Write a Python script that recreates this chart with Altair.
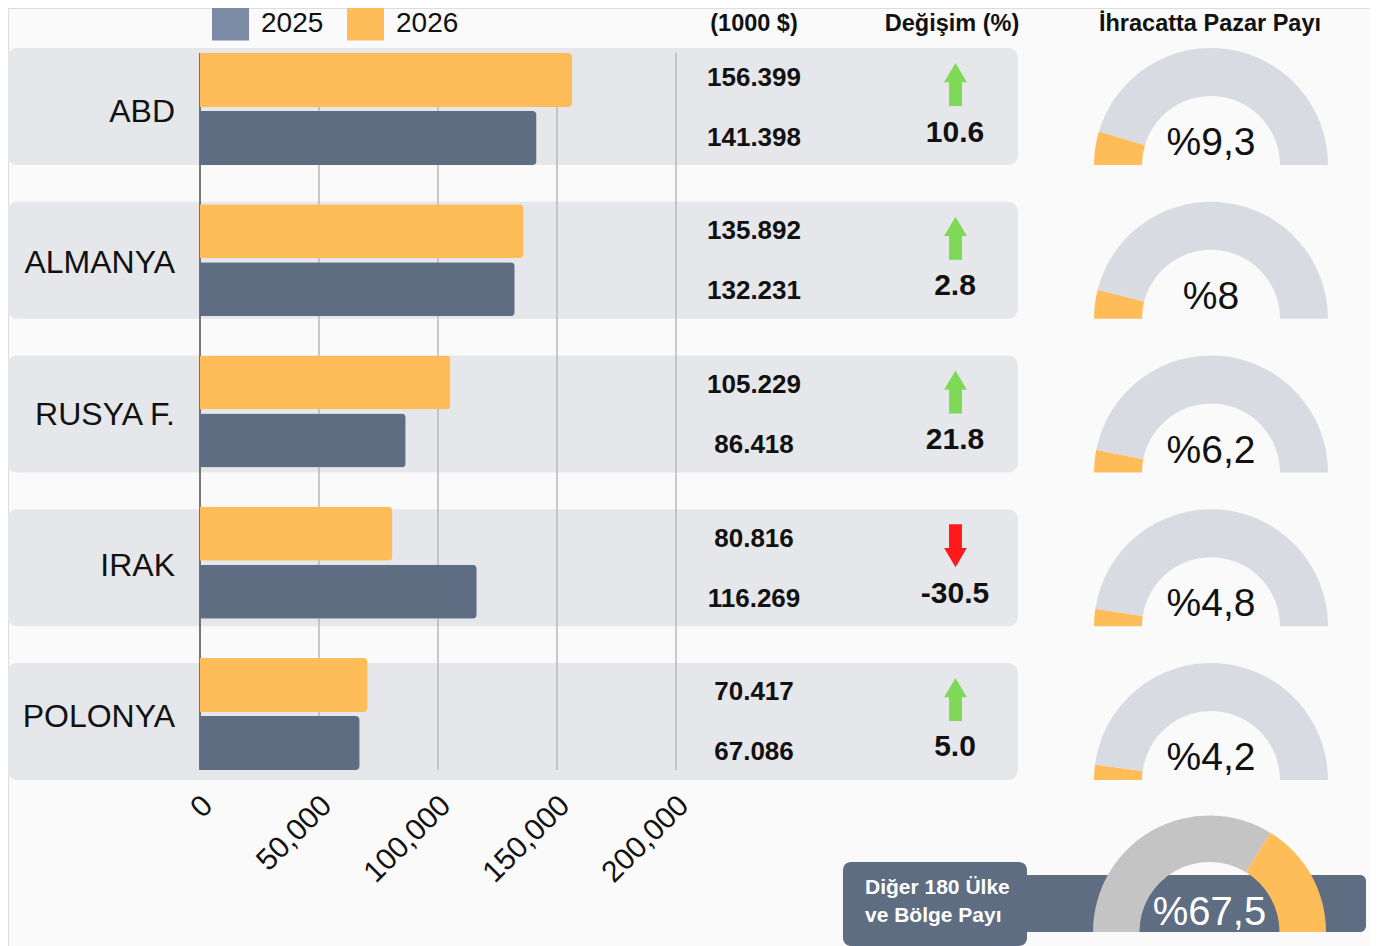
import altair as alt
import pandas as pd

# ---------------- data ----------------
countries = ["ABD", "ALMANYA", "RUSYA F.", "IRAK", "POLONYA"]
exports_2025 = [141398, 132231, 86418, 116269, 67086]
exports_2026 = [156399, 135892, 105229, 80816, 70417]
change_pct = [10.6, 2.8, 21.8, -30.5, 5.0]
market_share = [9.3, 8.0, 6.2, 4.8, 4.2]
other_share = 67.5
x_ticks = [0, 50000, 100000, 150000, 200000]
years = ["2025", "2026"]

# ---------------- styles ----------------
SLATE = "#5e6d82"
SLATE_LIGHT = "#7b8ba3"
ORANGE = "#ffbd5a"
ROW_BG = "#e6e7eb"
GAUGE_GRAY = "#d8dbe1"
OTHER_GRAY = "#c4c4c4"
TXT = "#111111"
FONT = "Liberation Sans"
W, H = 1362, 938

UP = "M0,-1L0.53,-0.1L0.3,-0.1L0.3,1L-0.3,1L-0.3,-0.1L-0.53,-0.1Z"
DOWN = "M0,1L0.53,0.1L0.3,0.1L0.3,-1L-0.3,-1L-0.3,0.1L-0.53,0.1Z"


def tr_num(v):
    return f"{v:,}".replace(",", ".")


bars_df = pd.DataFrame({
    "country": countries * 2,
    "year": ["2026"] * len(countries) + ["2025"] * len(countries),
    "value": exports_2026 + exports_2025,
})
bars_df["label"] = bars_df["value"].map(tr_num)

rows_df = pd.DataFrame({"country": countries, "change": change_pct, "share": market_share})
rows_df["change_label"] = [f"{c:.1f}" for c in change_pct]
rows_df["dir"] = ["up" if c >= 0 else "down" for c in change_pct]
rows_df["share_label"] = ["%" + f"{s:g}".replace(".", ",") for s in market_share]

gauge_df = pd.DataFrame({
    "country": countries * 2,
    "part": ["share"] * len(countries) + ["rest"] * len(countries),
    "order": [0] * len(countries) + [1] * len(countries),
    "value": market_share + [100 - s for s in market_share],
})

other_df = pd.DataFrame({
    "part": ["other", "top5"],
    "order": [0, 1],
    "value": [other_share, 100 - other_share],
})
other_label = "%" + f"{other_share:g}".replace(".", ",")

grid_df = pd.DataFrame({"tick": x_ticks})
legend_df = pd.DataFrame({"year": years})
one = pd.DataFrame({"k": [0]})

# ---------------- scales ----------------
x_bar = alt.Scale(domain=[0, 200000], range=[192, 668], nice=False)
y_bar = alt.Scale(type="band", domain=countries, range=[45, 762], paddingInner=0.2595, paddingOuter=0)
y_row = alt.Scale(type="band", domain=countries, range=[40, 772], paddingInner=0.239, paddingOuter=0)
theta_scale = alt.Scale(domain=[0, 100], range=[4.71238898, 7.85398163])

# ---------------- layers ----------------
rows_bg = alt.Chart(rows_df).mark_rect(cornerRadius=10, color=ROW_BG).encode(
    y=alt.Y("country:N", scale=y_row, axis=None),
    x=alt.value(-1), x2=alt.value(1010),
)

grid = alt.Chart(grid_df).mark_rule(strokeWidth=1.5).encode(
    x=alt.X("tick:Q", scale=x_bar, axis=None),
    y=alt.value(45), y2=alt.value(762),
    color=alt.condition(alt.datum.tick == 0, alt.value("#4d4d4d"), alt.value("#b9b9b9")),
)

bars = alt.Chart(bars_df).mark_bar(cornerRadiusEnd=4).encode(
    x=alt.X("value:Q", scale=x_bar, axis=None),
    y=alt.Y("country:N", scale=y_bar, axis=None),
    yOffset=alt.YOffset("year:N", scale=alt.Scale(domain=["2026", "2025"], paddingInner=0.069, paddingOuter=0)),
    color=alt.Color("year:N", scale=alt.Scale(domain=years, range=[SLATE, ORANGE]), legend=None),
)

country_labels = alt.Chart(rows_df).mark_text(
    align="right", baseline="middle", dy=3, fontSize=32, font=FONT, color=TXT
).encode(
    x=alt.value(167),
    y=alt.Y("country:N", scale=y_bar, axis=None),
    text="country:N",
)

tick_labels = alt.Chart(grid_df).mark_text(
    angle=315, align="right", baseline="middle", xOffset=8, fontSize=30, font=FONT, color=TXT
).encode(
    x=alt.X("tick:Q", scale=x_bar, axis=None),
    y=alt.value(793),
    text=alt.Text("tick:Q", format=","),
)

val26 = alt.Chart(bars_df).transform_filter(alt.datum.year == "2026").mark_text(
    baseline="alphabetic", dy=-21, fontSize=26, fontWeight="bold", font=FONT, color=TXT
).encode(
    x=alt.value(746),
    y=alt.Y("country:N", scale=y_row, axis=None),
    text="label:N",
)

val25 = alt.Chart(bars_df).transform_filter(alt.datum.year == "2025").mark_text(
    baseline="alphabetic", dy=39, fontSize=26, fontWeight="bold", font=FONT, color=TXT
).encode(
    x=alt.value(746),
    y=alt.Y("country:N", scale=y_row, axis=None),
    text="label:N",
)

change_txt = alt.Chart(rows_df).mark_text(
    baseline="alphabetic", dy=35, fontSize=30, fontWeight="bold", font=FONT, color=TXT
).encode(
    x=alt.value(947),
    y=alt.Y("country:N", scale=y_row, axis=None),
    text="change_label:N",
)

arrows = alt.Chart(rows_df).mark_point(
    filled=True, size=1849, strokeWidth=0, opacity=1, yOffset=-22
).encode(
    x=alt.value(947.5),
    y=alt.Y("country:N", scale=y_row, axis=None),
    shape=alt.Shape("dir:N", scale=alt.Scale(domain=["up", "down"], range=[UP, DOWN]), legend=None),
    color=alt.Color("dir:N", scale=alt.Scale(domain=["up", "down"], range=["#7ed957", "#ff1a1a"]), legend=None),
)

gauges = alt.Chart(gauge_df).transform_stack(
    stack="value", groupby=["country"], as_=["t0", "t1"], sort=[alt.SortField("order")]
).mark_arc(radius=117, radius2=69, yOffset=58.5).encode(
    x=alt.value(1203),
    y=alt.Y("country:N", scale=y_row, axis=None),
    theta=alt.Theta("t0:Q", scale=theta_scale),
    theta2="t1:Q",
    color=alt.Color("part:N", scale=alt.Scale(domain=["share", "rest"], range=[ORANGE, GAUGE_GRAY]), legend=None),
)

gauge_labels = alt.Chart(rows_df).mark_text(
    baseline="alphabetic", dy=48.5, fontSize=39, font=FONT, color=TXT
).encode(
    x=alt.value(1203),
    y=alt.Y("country:N", scale=y_row, axis=None),
    text="share_label:N",
)


def header(txt, x):
    return alt.Chart(one).mark_text(
        text=txt, baseline="alphabetic", fontSize=23.5, fontWeight="bold", font=FONT, color=TXT
    ).encode(x=alt.value(x), y=alt.value(23))


h1 = header("(1000 $)", 746)
h2 = header("Değişim (%)", 944)
h3 = header("İhracatta Pazar Payı", 1202)

leg_x = alt.Scale(type="point", domain=years, range=[222.5, 357.5], padding=0)
leg_sq = alt.Chart(legend_df).mark_square(size=1369, filled=True, opacity=1).encode(
    x=alt.X("year:N", scale=leg_x, axis=None),
    y=alt.value(14),
    color=alt.Color("year:N", scale=alt.Scale(domain=years, range=[SLATE_LIGHT, ORANGE]), legend=None),
)
leg_tx = alt.Chart(legend_df).mark_text(
    align="left", baseline="alphabetic", dx=30.5, fontSize=28, font=FONT, color=TXT
).encode(
    x=alt.X("year:N", scale=leg_x, axis=None),
    y=alt.value(24),
    text="year:N",
)

box_wide = alt.Chart(one).mark_rect(cornerRadius=6, color=SLATE).encode(
    x=alt.value(835), x2=alt.value(1358), y=alt.value(867), y2=alt.value(924)
)
box_label = alt.Chart(one).mark_rect(cornerRadius=8, color=SLATE).encode(
    x=alt.value(835), x2=alt.value(1019), y=alt.value(854), y2=alt.value(938)
)
bt1 = alt.Chart(one).mark_text(
    text="Diğer 180 Ülke", align="left", baseline="alphabetic", fontSize=21, fontWeight="bold",
    font=FONT, color="white"
).encode(x=alt.value(857), y=alt.value(886))
bt2 = alt.Chart(one).mark_text(
    text="ve Bölge Payı", align="left", baseline="alphabetic", fontSize=21, fontWeight="bold",
    font=FONT, color="white"
).encode(x=alt.value(857), y=alt.value(914))

other_g = alt.Chart(other_df).transform_stack(
    stack="value", groupby=[], as_=["t0", "t1"], sort=[alt.SortField("order")]
).mark_arc(radius=116.5, radius2=70).encode(
    x=alt.value(1201.5),
    y=alt.value(924),
    theta=alt.Theta("t0:Q", scale=theta_scale),
    theta2="t1:Q",
    color=alt.Color("part:N", scale=alt.Scale(domain=["other", "top5"], range=[OTHER_GRAY, ORANGE]), legend=None),
)
other_lbl = alt.Chart(one).mark_text(
    text=other_label, baseline="alphabetic", fontSize=40, font=FONT, color="white"
).encode(x=alt.value(1201.5), y=alt.value(917))

chart = alt.layer(
    rows_bg, grid, bars, country_labels, tick_labels, val26, val25, change_txt, arrows,
    gauges, gauge_labels, h1, h2, h3, leg_sq, leg_tx, box_wide, box_label, bt1, bt2,
    other_g, other_lbl,
).resolve_scale(
    x="independent", y="independent", color="independent", shape="independent"
).properties(
    width=W, height=H, padding=0,
    autosize=alt.AutoSizeParams(type="none"),
    background="#fafafa",
).configure_view(stroke=None).configure(font=FONT)

chart.save("out.html", embed_options={"renderer": "svg", "actions": False})
